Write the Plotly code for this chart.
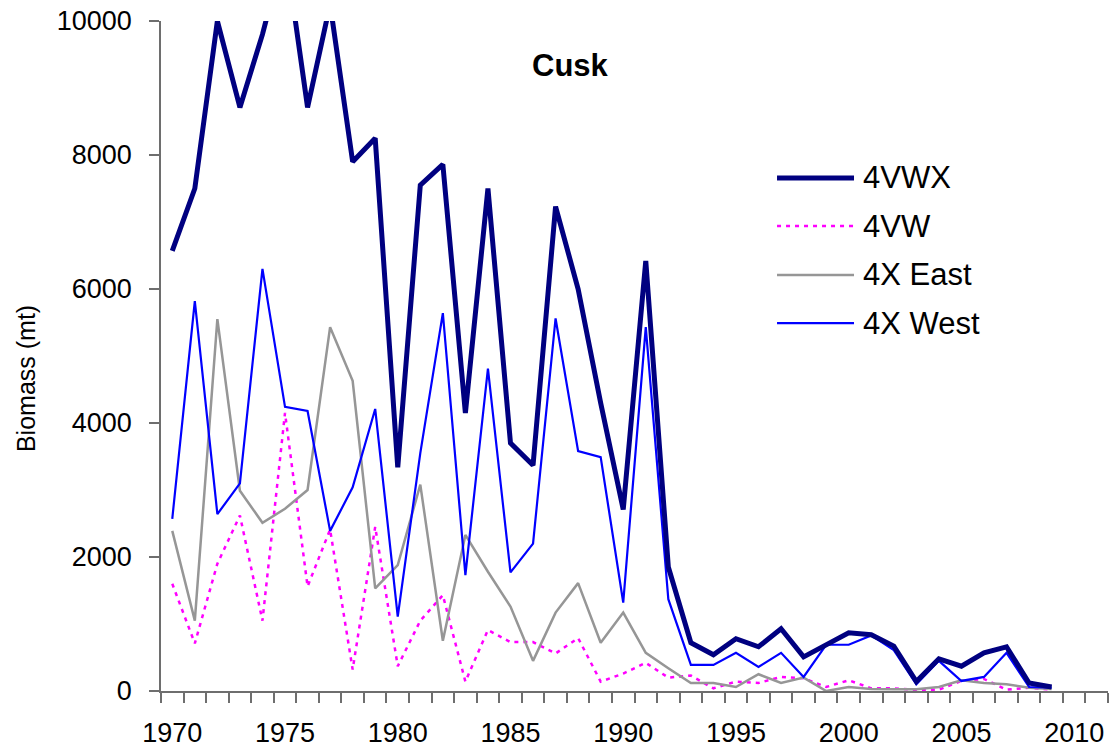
import plotly.graph_objects as go

# Cusk biomass (mt) by area, 1970-2009
years = list(range(1970, 2010))

biomass_4vwx = [6570, 7500, 10000, 8710, 9800, 11100, 8710, 10250, 7900, 8250,
                3340, 7550, 7860, 4150, 7500, 3700, 3370, 7230, 6000, 4300,
                2710, 6420, 1850, 720, 540, 780, 660, 930, 510, 700,
                870, 840, 670, 140, 480, 370, 570, 660, 120, 60]

biomass_4vw = [1600, 710, 1900, 2620, 1050, 4150, 1560, 2410, 320, 2450,
               370, 1050, 1430, 140, 910, 730, 730, 560, 790, 140,
               260, 420, 200, 230, 40, 140, 120, 210, 190, 60,
               160, 40, 40, 15, 20, 150, 180, 20, 50, 20]

biomass_4x_east = [2390, 1050, 5550, 2990, 2510, 2720, 3000, 5430, 4630, 1530,
                   1880, 3080, 750, 2330, 1780, 1260, 450, 1170, 1610, 720,
                   1170, 570, 340, 120, 120, 60, 250, 120, 200, 0,
                   60, 30, 25, 25, 60, 160, 120, 100, 50, 30]

biomass_4x_west = [2570, 5820, 2640, 3100, 6300, 4240, 4180, 2390, 3040, 4210,
                   1110, 3550, 5640, 1730, 4810, 1770, 2200, 5560, 3580, 3490,
                   1320, 5430, 1370, 390, 390, 570, 360, 570, 210, 690,
                   690, 830, 610, 100, 450, 150, 210, 570, 60, 50]

series_names = ["4VWX", "4VW", "4X East", "4X West"]
tick_years = [1970, 1975, 1980, 1985, 1990, 1995, 2000, 2005, 2010]

FONT = "Liberation Sans, Arial, sans-serif"
AXIS_COLOR = "#6e6e6e"

styles = {
    "4VWX": dict(color="#000080", width=5),
    "4VW": dict(color="#ff00ff", width=2.5, dash="4px,5px"),
    "4X East": dict(color="#969696", width=2.5),
    "4X West": dict(color="#0000ff", width=2.2),
}
values = {
    "4VWX": biomass_4vwx,
    "4VW": biomass_4vw,
    "4X East": biomass_4x_east,
    "4X West": biomass_4x_west,
}

fig = go.Figure()
# draw order: thin series underneath, total on top
for name in ["4VW", "4X East", "4X West", "4VWX"]:
    fig.add_trace(go.Scatter(
        x=years, y=values[name], name=name, mode="lines",
        line=styles[name], showlegend=False, hoverinfo="x+y+name",
    ))

# hand-built legend block (long line samples)
legend_rows_y = [0.7657, 0.694, 0.621, 0.549]
for name, ly in zip(series_names, legend_rows_y):
    st = styles[name]
    fig.add_shape(type="line", xref="paper", yref="paper",
                  x0=0.6505, x1=0.7318, y0=ly, y1=ly,
                  line=dict(color=st["color"], width=st["width"],
                            dash=st.get("dash", "solid")))
    fig.add_annotation(text=name, xref="paper", yref="paper",
                       x=0.7392, y=ly, xanchor="left", yanchor="middle",
                       showarrow=False,
                       font=dict(family=FONT, size=31, color="black"))

# chart title
fig.add_annotation(text="<b>Cusk</b>", xref="paper", yref="paper",
                   x=0.4319, y=0.933, xanchor="center", yanchor="middle",
                   showarrow=False, font=dict(family=FONT, size=31, color="black"))

# y-axis title
fig.add_annotation(text="Biomass (mt)", xref="paper", yref="paper",
                   x=-0.1426, y=0.467, xanchor="center", yanchor="middle",
                   textangle=-90, showarrow=False,
                   font=dict(family=FONT, size=25, color="black"))

fig.update_layout(
    width=1120, height=750,
    margin=dict(l=161, r=12, t=21, b=59),
    paper_bgcolor="white", plot_bgcolor="white",
    font=dict(family=FONT, color="black"),
)
fig.update_xaxes(
    range=[1969.5, 2011.5], tickmode="array", tickvals=tick_years,
    ticktext=[str(y) for y in tick_years],
    ticks="", showgrid=False, zeroline=False, automargin=False,
    showline=True, linecolor=AXIS_COLOR, linewidth=1.5,
    tickfont=dict(family=FONT, size=27, color="black"),
    ticklabelstandoff=17,
    minor=dict(ticks="outside", ticklen=10, tickwidth=1.5, tickcolor=AXIS_COLOR,
               tickmode="linear", tick0=1969.5, dtick=1, showgrid=False),
)
fig.update_yaxes(
    range=[0, 10000], tickmode="linear", tick0=0, dtick=2000, tickformat="d",
    ticks="outside", ticklen=10, tickwidth=1.5, tickcolor=AXIS_COLOR,
    showgrid=False, zeroline=False, automargin=False,
    showline=True, linecolor=AXIS_COLOR, linewidth=1.5,
    tickfont=dict(family=FONT, size=27, color="black"),
    ticklabelstandoff=12,
)

fig.write_html("out.html")
